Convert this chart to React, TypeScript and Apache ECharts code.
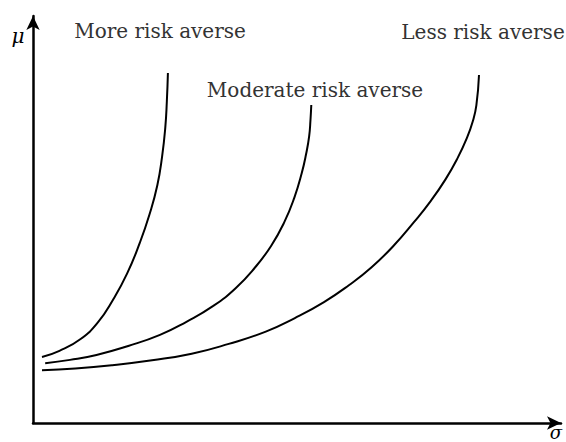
import React, { useEffect, useRef } from "react";
import * as echarts from "echarts";

// Curve names
const curveNames = ["More risk averse", "Moderate risk averse", "Less risk averse"];

// sigma (x) and mu (y) values for each indifference curve
const moreX = [1.7, 5.0, 9.0, 12.3, 15.1, 17.8, 20.2, 22.0, 23.5, 24.4, 25.0, 25.3, 25.5];
const moreY = [16.1, 17.6, 20.5, 24.6, 30.0, 36.5, 44.0, 50.8, 58.0, 65.0, 72.0, 78.5, 85.4];

const modX = [2.3, 7.0, 12.0, 18.0, 24.0, 29.0, 34.0, 38.3, 42.0, 45.0, 47.5, 49.4, 50.8, 51.6, 52.2, 52.45, 52.6];
const modY = [14.6, 15.4, 16.6, 18.8, 21.5, 24.7, 28.5, 32.9, 38.0, 43.2, 49.0, 55.0, 61.0, 65.5, 70.0, 74.0, 77.6];

const lessX = [1.7, 8.0, 15.0, 22.5, 30.0, 37.0, 44.0, 49.5, 55.0, 59.7, 64.0, 68.2, 72.0, 75.2, 78.0, 80.2, 82.0, 83.1, 83.8, 84.3];
const lessY = [12.9, 13.3, 14.1, 15.3, 16.9, 19.3, 22.3, 25.6, 29.5, 33.6, 38.0, 43.3, 49.0, 54.2, 59.5, 64.5, 69.5, 73.5, 77.5, 84.9];

const axisNames = { x: "σ", y: "μ" };

const pairs = (xs: number[], ys: number[]) => xs.map((x, i) => [x, ys[i]]);

export default function App() {
  const ref = useRef<HTMLDivElement>(null);
  useEffect(() => {
    if (!ref.current) return;
    const chart = echarts.init(ref.current, null, { renderer: "svg" });
    const font = "'DejaVu Serif', 'Liberation Serif', serif";
    const axisCommon = {
      type: "value" as const,
      min: 0,
      axisLine: {
        show: true,
        symbol: ["none", "arrow"],
        symbolSize: [10, 14],
        lineStyle: { color: "#000", width: 2.5 },
      },
      axisTick: { show: false },
      axisLabel: { show: false },
      splitLine: { show: false },
    };
    const lineSeries = (name: string, xs: number[], ys: number[]) => ({
      name,
      type: "line",
      data: pairs(xs, ys),
      smooth: 0.5,
      showSymbol: false,
      symbol: "none",
      lineStyle: { color: "#000", width: 2 },
    });
    const labelStyle = { font: `20px ${font}`, fill: "#333", textAlign: "center", textVerticalAlign: "middle" };
    chart.setOption({
      animation: false,
      backgroundColor: "#fff",
      grid: { left: 33, right: 5, top: 16, bottom: 19, outerBoundsMode: "none" },
      xAxis: { ...axisCommon, max: 99.8 },
      yAxis: { ...axisCommon, max: 99.3 },
      series: [
        lineSeries(curveNames[0], moreX, moreY),
        lineSeries(curveNames[1], modX, modY),
        lineSeries(curveNames[2], lessX, lessY),
      ],
      graphic: [
        { type: "text", x: 160, y: 31, style: { ...labelStyle, text: curveNames[0] } },
        { type: "text", x: 315, y: 90, style: { ...labelStyle, text: curveNames[1] } },
        { type: "text", x: 483, y: 32, style: { ...labelStyle, text: curveNames[2] } },
        {
          type: "text",
          x: 18,
          y: 36,
          style: { text: axisNames.y, font: `italic 20px ${font}`, fill: "#000", textAlign: "center", textVerticalAlign: "middle" },
        },
        {
          type: "text",
          x: 556,
          y: 441,
          style: { text: axisNames.x, font: `italic 18px ${font}`, fill: "#000", textAlign: "center", textVerticalAlign: "bottom" },
        },
      ],
    });
    return () => chart.dispose();
  }, []);
  return <div ref={ref} style={{ width: 566, height: 442, position: "fixed", left: 0, top: 0 }} />;
}
